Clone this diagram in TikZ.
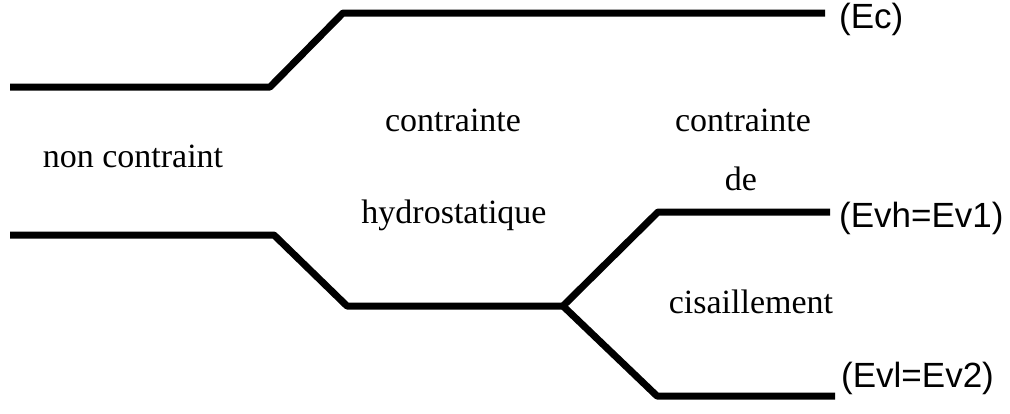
\documentclass[tikz,border=0pt]{standalone}
\usepackage{fontspec}
\setmainfont{Liberation Serif}
\newfontfamily\labelfont{Liberation Sans}
\begin{document}
\begin{tikzpicture}[x=1pt,y=-1pt,
  level/.style={line width=7pt,line join=round,black},
  regime/.style={anchor=base,inner sep=0pt,font=\fontsize{34}{40}\selectfont},
  statelabel/.style={anchor=base west,inner sep=0pt,font=\labelfont\fontsize{35}{42}\selectfont}]
  \useasboundingbox (0,0) rectangle (1010,413);

  % conduction band
  \coordinate (c0) at (10,87);
  \coordinate (c1) at (270,87);
  \coordinate (c2) at (343,13);
  \coordinate (c3) at (825,13);
  \draw[level] (c0) -- (c1) -- (c2) -- (c3);

  % valence band, split by shear
  \coordinate (v0) at (10,235);
  \coordinate (v1) at (274,235);
  \coordinate (v2) at (347,306);
  \coordinate (vs) at (563,306);
  \coordinate (h1) at (658,212);
  \coordinate (h2) at (830,212);
  \coordinate (l1) at (657,396);
  \coordinate (l2) at (835,396);
  \draw[level] (v0) -- (v1) -- (v2) -- (vs);
  \draw[level] (vs) -- (h1) -- (h2);
  \draw[level] (vs) -- (l1) -- (l2);

  % state labels
  \node[statelabel] (ec)  at (839,28)  {(Ec)};
  \node[statelabel] (evh) at (839,227) {(Evh=Ev1)};
  \node[statelabel] (evl) at (841,387) {(Evl=Ev2)};

  % regime captions
  \node[regime] (nc)  at (133,167) {non contraint};
  \node[regime] (ch1) at (453,131) {contrainte};
  \node[regime] (ch2) at (454,223) {hydrostatique};
  \node[regime] (cs1) at (743,131) {contrainte};
  \node[regime] (cs2) at (741,190) {de};
  \node[regime] (cs3) at (751,313) {cisaillement};
\end{tikzpicture}
\end{document}
